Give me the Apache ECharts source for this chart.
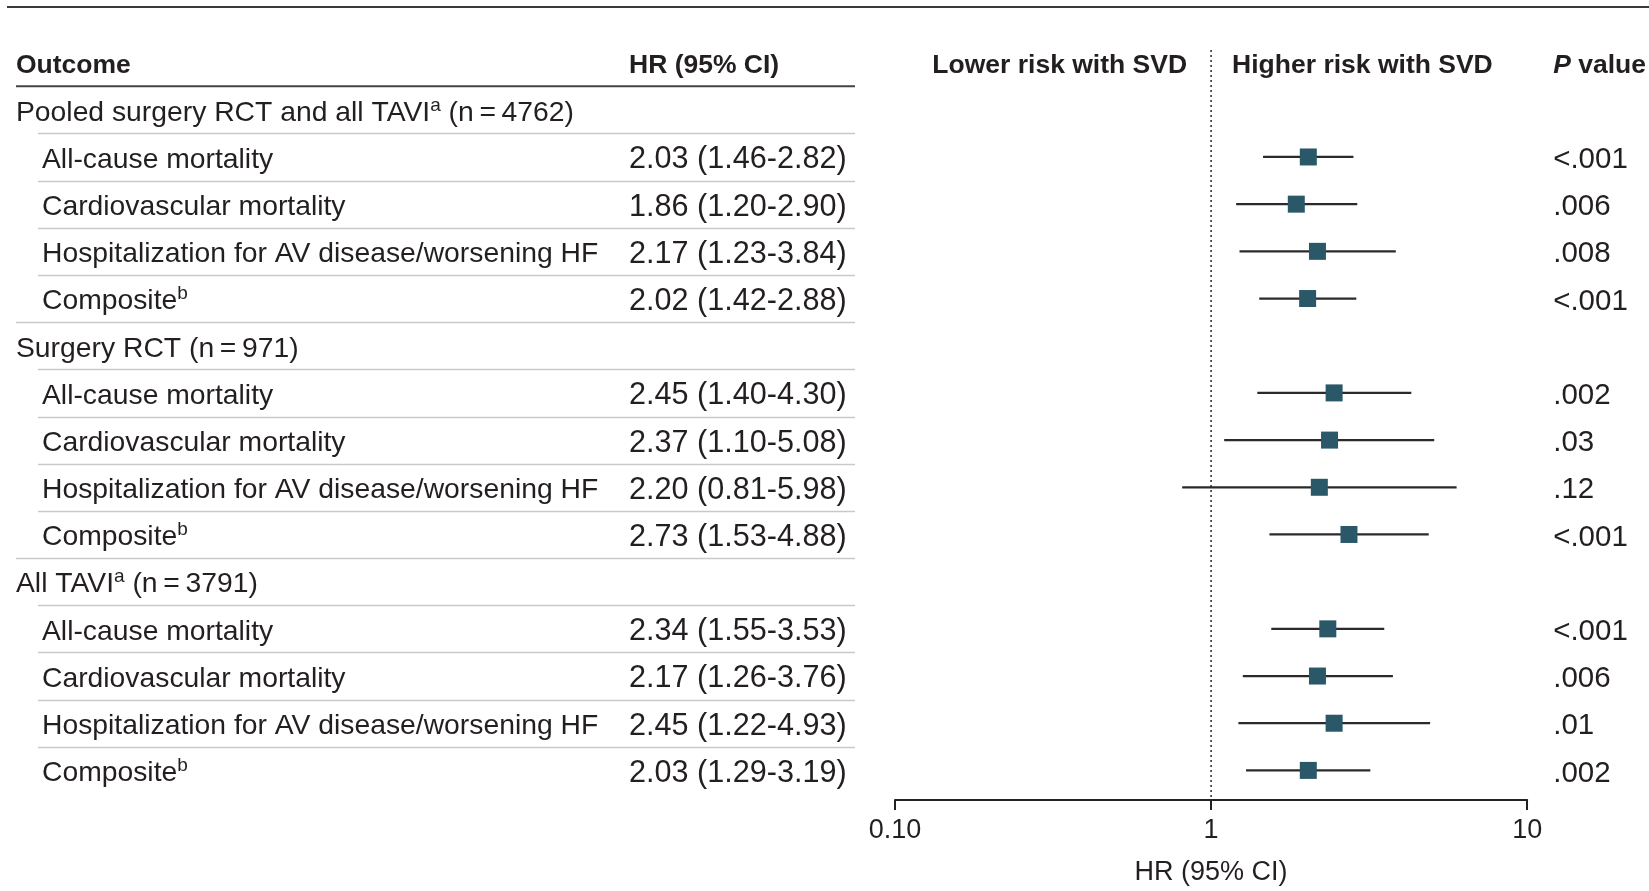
<!DOCTYPE html>
<html>
<head>
<meta charset="utf-8">
<script src="https://cdn.jsdelivr.net/npm/echarts@6/dist/echarts.min.js"></script>
<style>html,body{margin:0;padding:0;background:#fff}#c{width:1649px;height:891px}</style>
</head>
<body>
<div id="c"></div>
<script>
// ---------------- data ----------------
const rowLabels = [
  'Pooled surgery RCT and all TAVI^a (n\u2009=\u20094762)',
  'All-cause mortality',
  'Cardiovascular mortality',
  'Hospitalization for AV disease/worsening HF',
  'Composite^b',
  'Surgery RCT (n\u2009=\u2009971)',
  'All-cause mortality',
  'Cardiovascular mortality',
  'Hospitalization for AV disease/worsening HF',
  'Composite^b',
  'All TAVI^a (n\u2009=\u20093791)',
  'All-cause mortality',
  'Cardiovascular mortality',
  'Hospitalization for AV disease/worsening HF',
  'Composite^b'
];
const rowIsGroup = [true,false,false,false,false,true,false,false,false,false,true,false,false,false,false];
const hrValues = [null,2.03,1.86,2.17,2.02,null,2.45,2.37,2.20,2.73,null,2.34,2.17,2.45,2.03];
const ciLower  = [null,1.46,1.20,1.23,1.42,null,1.40,1.10,0.81,1.53,null,1.55,1.26,1.22,1.29];
const ciUpper  = [null,2.82,2.90,3.84,2.88,null,4.30,5.08,5.98,4.88,null,3.53,3.76,4.93,3.19];
const hrLabels = ['','2.03 (1.46-2.82)','1.86 (1.20-2.90)','2.17 (1.23-3.84)','2.02 (1.42-2.88)',
                  '','2.45 (1.40-4.30)','2.37 (1.10-5.08)','2.20 (0.81-5.98)','2.73 (1.53-4.88)',
                  '','2.34 (1.55-3.53)','2.17 (1.26-3.76)','2.45 (1.22-4.93)','2.03 (1.29-3.19)'];
const pLabels = ['','<.001','.006','.008','<.001','','.002','.03','.12','<.001','','<.001','.006','.01','.002'];
const xTicks = [0.1, 1, 10];
const xTickLabels = ['0.10', '1', '10'];
const headerOutcome = 'Outcome';
const headerHR = 'HR (95% CI)';
const headerLower = 'Lower risk with SVD';
const headerHigher = 'Higher risk with SVD';
const headerP = ['P', ' value'];
const xTitle = 'HR (95% CI)';

// ---------------- chart ----------------
const FONT = 'Liberation Sans, Arial, sans-serif';
const TXT = '#231f20';
const cats = ['0'].concat(rowLabels.map((_, i) => String(i + 1)));

function richLabel(text, base) {
  const parts = text.split(/\^(\w)/);
  let out = '';
  parts.forEach((p, k) => {
    if (!p) return;
    out += (k % 2 === 1) ? '{' + base + 's|' + p + '}' : '{' + base + '|' + p + '}';
  });
  return out;
}

const baseRich = {
  h: {fontFamily: FONT, fontSize: 26.5, fontWeight: 'bold', color: TXT, lineHeight: 34},
  hi: {fontFamily: FONT, fontSize: 26.5, fontWeight: 'bold', fontStyle: 'italic', color: TXT, lineHeight: 34},
  g: {fontFamily: FONT, fontSize: 28.3, color: TXT, lineHeight: 34},
  gs: {fontFamily: FONT, fontSize: 19, color: TXT, lineHeight: 20, verticalAlign: 'top'},
  t: {fontFamily: FONT, fontSize: 28.3, color: TXT, lineHeight: 34},
  ts: {fontFamily: FONT, fontSize: 19, color: TXT, lineHeight: 20, verticalAlign: 'top'},
  n: {fontFamily: FONT, fontSize: 30.6, color: TXT, lineHeight: 34},
  p: {fontFamily: FONT, fontSize: 29.5, color: TXT, lineHeight: 34}
};

function catAxis(extra) {
  return Object.assign({
    type: 'category', data: cats, inverse: true, gridIndex: 0,
    axisLine: {show: false}, axisTick: {show: false}, splitLine: {show: false}
  }, extra);
}

const ciData = [], hrData = [];
hrValues.forEach((v, i) => {
  if (v == null) return;
  ciData.push([ciLower[i], ciUpper[i], cats[i + 1]]);
  hrData.push([v, cats[i + 1]]);
});

const LPAD = [6, 0, 0, 0];
const XOFF = 6;
const option = {
  animation: false,
  backgroundColor: '#fff',
  grid: {left: 895, right: 121, top: 39, bottom: 92, containLabel: false},
  xAxis: {
    type: 'log', logBase: 10, min: 0.1, max: 10, offset: XOFF,
    axisLine: {show: true, lineStyle: {color: '#222', width: 2}},
    axisTick: {show: true, length: 10, lineStyle: {color: '#222', width: 2}},
    minorTick: {show: false},
    splitLine: {show: false},
    axisLabel: {
      fontFamily: FONT, fontSize: 27, color: TXT, margin: 17,
      formatter: v => {
        const k = xTicks.findIndex(t => Math.abs(Math.log10(t) - Math.log10(v)) < 1e-6);
        return k >= 0 ? xTickLabels[k] : '';
      }
    },
    name: xTitle, nameLocation: 'middle', nameGap: 59,
    nameTextStyle: {fontFamily: FONT, fontSize: 27, color: TXT}
  },
  yAxis: [
    catAxis({position: 'left', offset: 879, axisLabel: {
      margin: 0, align: 'left', interval: 0, rich: baseRich, padding: LPAD,
      formatter: (val) => {
        const i = +val;
        if (i === 0) return '{h|' + headerOutcome + '}';
        return rowIsGroup[i - 1] ? richLabel(rowLabels[i - 1], 'g') : '';
      }
    }}),
    catAxis({position: 'left', offset: 853, axisLabel: {
      margin: 0, align: 'left', interval: 0, rich: baseRich, padding: LPAD,
      formatter: (val) => {
        const i = +val;
        if (i === 0) return '';
        return rowIsGroup[i - 1] ? '' : richLabel(rowLabels[i - 1], 't');
      }
    }}),
    catAxis({position: 'left', offset: 266, axisLabel: {
      margin: 0, align: 'left', interval: 0, rich: baseRich, padding: LPAD,
      formatter: (val) => {
        const i = +val;
        if (i === 0) return '{h|' + headerHR + '}';
        return hrLabels[i - 1] ? '{n|' + hrLabels[i - 1] + '}' : '';
      }
    }}),
    catAxis({position: 'right', offset: 0, axisLabel: {
      margin: 26, align: 'left', interval: 0, rich: baseRich, padding: LPAD,
      formatter: (val) => {
        const i = +val;
        if (i === 0) return '{hi|' + headerP[0] + '}{h|' + headerP[1] + '}';
        return pLabels[i - 1] ? '{p|' + pLabels[i - 1] + '}' : '';
      }
    }})
  ],
  series: [
    {
      type: 'custom', name: 'CI', xAxisIndex: 0, yAxisIndex: 0,
      encode: {x: [0, 1], y: 2},
      data: ciData,
      renderItem: (params, api) => {
        const y = api.value(2);
        const p1 = api.coord([api.value(0), y]);
        const p2 = api.coord([api.value(1), y]);
        return {type: 'line', shape: {x1: p1[0], y1: p1[1], x2: p2[0], y2: p2[1]},
                style: {stroke: '#2a2a2a', lineWidth: 2.2}};
      },
      z: 2
    },
    {
      type: 'scatter', name: 'HR', xAxisIndex: 0, yAxisIndex: 0,
      symbol: 'rect', symbolSize: 17,
      itemStyle: {color: '#2b5868', opacity: 1},
      data: hrData, z: 3
    }
  ]
};

const chart = echarts.init(document.getElementById('c'), null, {renderer: 'canvas'});
chart.setOption(option);

// ---------- decorations positioned from the axes ----------
const yc = i => chart.convertToPixel({yAxisIndex: 0}, cats[i]);
const band = yc(2) - yc(1);
const x1 = chart.convertToPixel({xAxisIndex: 0}, 1);
const axisY = yc(cats.length - 1) + band / 2 + XOFF;
const g = [];
g.push({type: 'line', silent: true, shape: {x1: 7, y1: 7, x2: 1649, y2: 7}, style: {stroke: '#3a3a3a', lineWidth: 2}});
const hb = (yc(0) + yc(1)) / 2;
g.push({type: 'line', silent: true, shape: {x1: 16, y1: hb, x2: 855, y2: hb}, style: {stroke: '#444', lineWidth: 2}});
for (let r = 1; r < rowLabels.length; r++) {
  const yb = Math.round((yc(r) + yc(r + 1)) / 2) + 0.5;
  const sx = rowIsGroup[r] ? 16 : 38;
  g.push({type: 'line', silent: true, shape: {x1: sx, y1: yb, x2: 855, y2: yb}, style: {stroke: '#c9c9c9', lineWidth: 1.5}});
}
g.push({type: 'line', silent: true, shape: {x1: x1, y1: 50, x2: x1, y2: axisY},
        style: {stroke: '#333', lineWidth: 1.6, lineDash: [2, 3]}, z: 1});
const hy = yc(0) + 3;
g.push({type: 'text', silent: true, x: x1 - 24, y: hy, style: {text: headerLower, align: 'right', verticalAlign: 'middle',
        font: 'bold 26.5px ' + FONT, fill: TXT}});
g.push({type: 'text', silent: true, x: x1 + 21, y: hy, style: {text: headerHigher, align: 'left', verticalAlign: 'middle',
        font: 'bold 26.5px ' + FONT, fill: TXT}});
chart.setOption({graphic: g});
</script>
</body>
</html>
